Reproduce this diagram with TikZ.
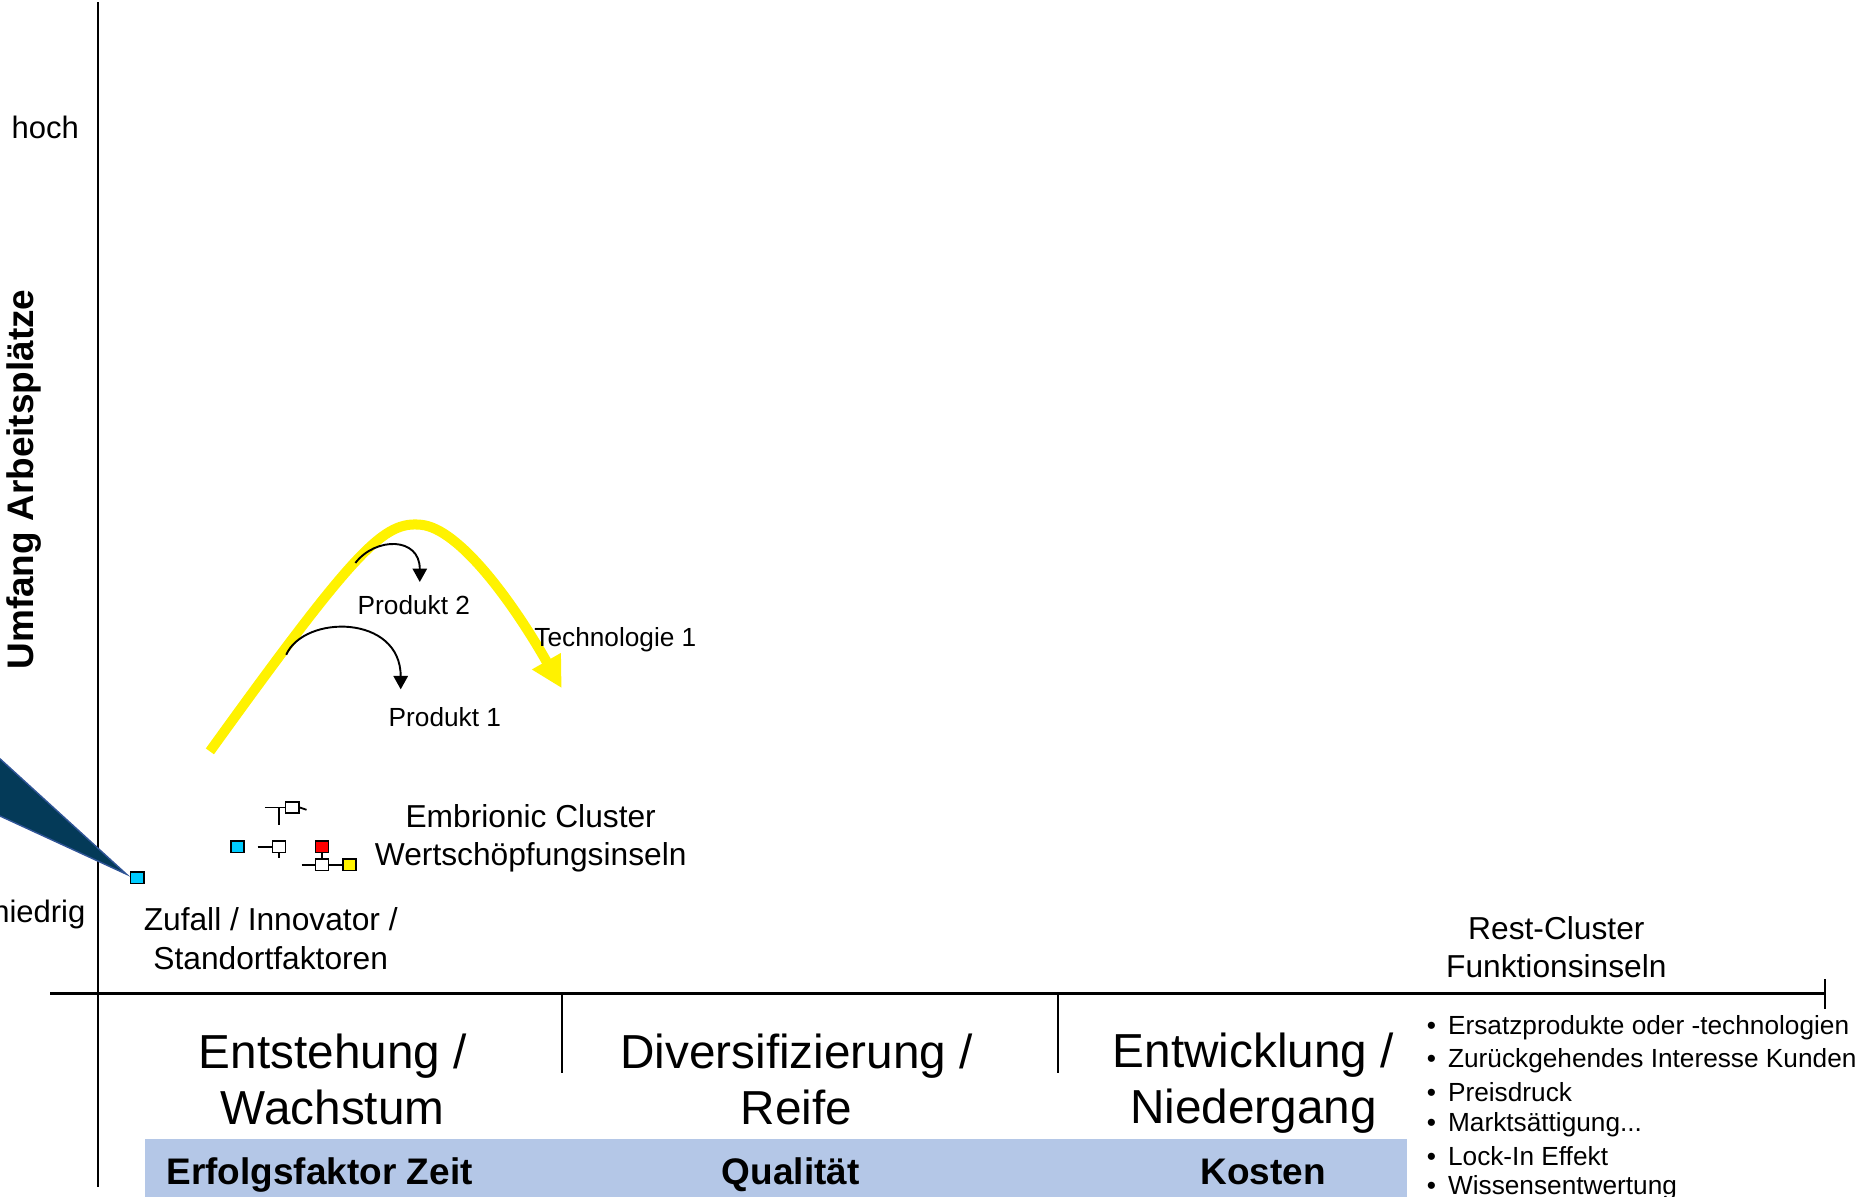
\documentclass[tikz,border=0pt]{standalone}
\usepackage{fontspec}
\setmainfont{Liberation Sans}
\usetikzlibrary{arrows.meta}

\definecolor{cellcyan}{RGB}{0,204,255}
\definecolor{bandblue}{RGB}{180,199,231}
\definecolor{wedgefill}{RGB}{4,58,88}
\definecolor{wedgeline}{RGB}{47,84,150}

\begin{document}
\begin{tikzpicture}[x=0.5pt,y=-0.5pt,
    txt/.style={inner sep=0pt, font=\fontsize{11}{13.4}\selectfont},
    axislbl/.style={inner sep=0pt, font=\fontsize{13}{15.6}\selectfont},
    clusterlbl/.style={inner sep=0pt, align=center, font=\fontsize{13.3}{16}\selectfont},
    phaselbl/.style={inner sep=0pt, align=center, font=\fontsize{20}{23.5}\selectfont},
    factorlbl/.style={inner sep=0pt, anchor=base, font=\bfseries\fontsize{15.5}{18}\selectfont},
    cell/.style={draw, line width=0.7pt, inner sep=0pt, minimum width=5.5pt, minimum height=4.8pt},
    link/.style={line width=0.75pt},
    techarrow/.style={draw=yellow, line width=4.2pt, -{Triangle[length=13pt,width=13pt]}},
    prodarrow/.style={line width=0.8pt, -{Triangle[length=5.6pt,width=6pt]}}
  ]

    \useasboundingbox (0,0) rectangle (1568,1003);

    %band
    \fill[bandblue] (122,955) rectangle (1180,1010);

    %axes
    \coordinate (ytop) at (82,2);
    \coordinate (ybot) at (82,995);
    \coordinate (xleft) at (42,833);
    \coordinate (xright) at (1530,833);
    \draw[line width=0.9pt] (ytop) -- (ybot);
    \draw[line width=0.9pt] (xleft) -- (xright);
    \draw[line width=0.9pt] (1530,821) -- (1530,846);
    \draw[line width=0.7pt] (471,833) -- (471,900);
    \draw[line width=0.7pt] (887,833) -- (887,900);

    %axis labels
    \node[axislbl] (hoch) at (38,107) {hoch};
    \node[axislbl, anchor=east] (niedrig) at (72,767) {niedrig};
    \node[rotate=90, inner sep=0pt, font=\bfseries\fontsize{15.5}{18}\selectfont] (ylbl) at (20,402) {Umfang Arbeitsplätze};

    %callout
    \filldraw[fill=wedgefill, draw=wedgeline, line width=0.6pt] (-20,618) -- (106,733) -- (-20,675) -- cycle;
    \node[cell, fill=cellcyan] (c0) at (115,736) {};

    %cluster icons
    \node[cell, fill=cellcyan] (c1) at (199,710) {};
    \node[cell, fill=white] (t) at (245,677) {};
    \draw[link] (222,677) -- (t.west);
    \draw[link] (t.east) -- (257,679);
    \draw[link] (234,677) -- (234,692);
    \node[cell, fill=white] (m) at (234,710) {};
    \draw[link] (216,710) -- (m.west);
    \draw[link] (m.south) -- (234,719);
    \node[cell, fill=red] (r) at (270,710) {};
    \node[cell, fill=white] (w) at (270,725) {};
    \node[cell, fill=yellow] (y) at (293,725) {};
    \draw[link] (r.south) -- (w.north);
    \draw[link] (253,725) -- (w.west);
    \draw[link] (w.east) -- (y.west);

    %cluster labels
    \node[clusterlbl] (embr) at (445,703) {Embrionic Cluster\\Wertschöpfungsinseln};
    \node[clusterlbl] (zufall) at (227,787) {Zufall / Innovator /\\Standortfaktoren};
    \node[clusterlbl] (rest) at (1305,794) {Rest-Cluster\\Funktionsinseln};

    %technology curve
    \coordinate (tstart) at (176,630);
    \coordinate (tpeak) at (353,440);
    \coordinate (tend) at (471,577);
    \draw[techarrow] (tstart) .. controls (300,458) and (322,437) .. (tpeak)
        .. controls (385,443) and (430,505) .. (tend);
    \node[txt] (tech) at (516,536) {Technologie 1};

    %products
    \coordinate (p2start) at (298,472);
    \coordinate (p2end) at (352,488);
    \draw[prodarrow] (p2start) .. controls (315,450) and (352,450) .. (p2end);
    \node[txt] (prod2) at (347,507) {Produkt 2};
    \coordinate (p1start) at (240,549);
    \coordinate (p1end) at (336,578);
    \draw[prodarrow] (p1start) .. controls (255,515) and (336,515) .. (p1end);
    \node[txt] (prod1) at (373,601) {Produkt 1};

    %phases
    \node[phaselbl] (ph1) at (279,905) {Entstehung /\\Wachstum};
    \node[phaselbl] (ph2) at (668,905) {Diversifizierung /\\Reife};
    \node[phaselbl] (ph3) at (1051,908) {Entwicklung /\\Niedergang};

    %success factors
    \node[factorlbl] (f1) at (268,993) {Erfolgsfaktor Zeit};
    \node[factorlbl] (f2) at (663,993) {Qualität};
    \node[factorlbl] (f3) at (1059,993) {Kosten};

    %decline reasons
    \node[txt, anchor=west] (b1) at (1196,862) {\textbullet\hspace{2pt} Ersatzprodukte oder -technologien};
    \node[txt, anchor=west] (b2) at (1196,889) {\textbullet\hspace{2pt} Zurückgehendes Interesse Kunden};
    \node[txt, anchor=west] (b3) at (1196,916) {\textbullet\hspace{2pt} Preisdruck};
    \node[txt, anchor=west] (b4) at (1196,943) {\textbullet\hspace{2pt} Marktsättigung...};
    \node[txt, anchor=west] (b5) at (1196,969) {\textbullet\hspace{2pt} Lock-In Effekt};
    \node[txt, anchor=west] (b6) at (1196,996) {\textbullet\hspace{2pt} Wissensentwertung};

  \end{tikzpicture}
\end{document}
